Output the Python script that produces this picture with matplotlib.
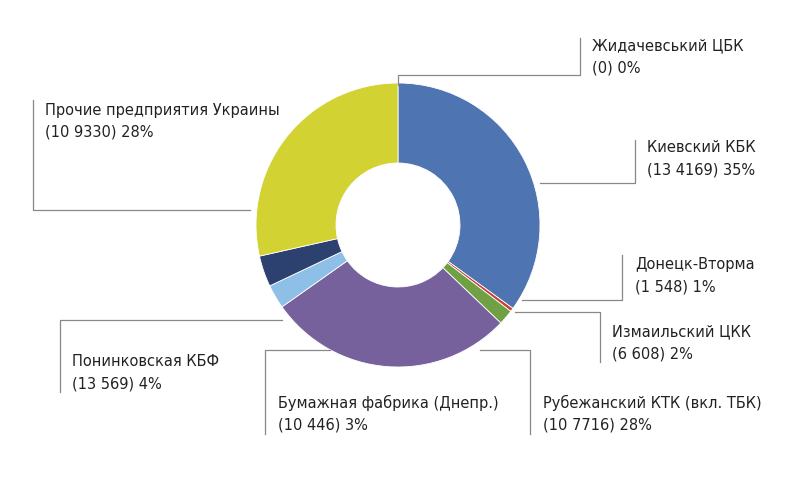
import matplotlib
matplotlib.use("Agg")
import matplotlib.pyplot as plt

names = ["Жидачевський ЦБК", "Киевский КБК", "Донецк-Вторма", "Измаильский ЦКК",
         "Рубежанский КТК (вкл. ТБК)", "Бумажная фабрика (Днепр.)", "Понинковская КБФ",
         "Прочие предприятия Украины"]
values = [0, 134169, 1548, 6608, 107716, 10446, 13569, 109330]
value_labels = ["(0) 0%", "(13 4169) 35%", "(1 548) 1%", "(6 608) 2%", "(10 7716) 28%",
                "(10 446) 3%", "(13 569) 4%", "(10 9330) 28%"]
colors = ["#4a6fb0", "#4f74b2", "#c6403a", "#6fa043", "#76619c", "#8ebfe6", "#2d4170", "#d2d233"]

fig = plt.figure(figsize=(8.05, 4.92), dpi=100)
ax = fig.add_axes([0, 0, 1, 1])

# y axis points down, so mirror the pie direction
ax.pie(values, colors=colors, startangle=-90, counterclock=True, center=(398, 225),
       radius=142, wedgeprops=dict(width=80, edgecolor="white", linewidth=0.6), frame=True)
ax.set_xlim(0, 805); ax.set_ylim(492, 0); ax.set_aspect("equal"); ax.axis("off")

lines = [
    [(398, 85), (398, 75), (580, 75), (580, 38)],
    [(540, 183), (635, 183), (635, 140)],
    [(522, 300), (622, 300), (622, 255)],
    [(515, 312), (600, 312), (600, 362)],
    [(480, 350), (530, 350), (530, 434)],
    [(330, 350), (265, 350), (265, 434)],
    [(282, 320), (60, 320), (60, 392)],
    [(250, 210), (33, 210), (33, 100)],
]
texts = [(592, 46), (647, 148), (635, 265), (612, 332), (543, 403), (278, 403), (72, 362), (45, 110)]
for ln in lines:
    xs, ys = zip(*ln)
    ax.plot(xs, ys, color="#888888", lw=0.9)
for (x, y), n, v in zip(texts, names, value_labels):
    ax.text(x, y, n, fontsize=10.5, color="#222222", va="center", ha="left")
    ax.text(x, y + 22, v, fontsize=10.5, color="#222222", va="center", ha="left")

fig.savefig("out.png", dpi=100)
